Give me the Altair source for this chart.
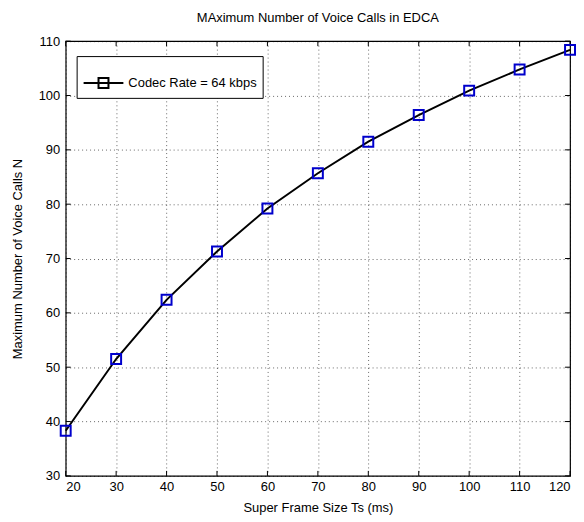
import altair as alt
import pandas as pd

frame_size = [20, 30, 40, 50, 60, 70, 80, 90, 100, 110, 120]
max_calls = [38.3, 51.5, 62.4, 71.3, 79.2, 85.7, 91.5, 96.4, 100.9, 104.8, 108.4]
series_name = "Codec Rate = 64 kbps"
x_ticks = [20, 30, 40, 50, 60, 70, 80, 90, 100, 110, 120]
y_ticks = [30, 40, 50, 60, 70, 80, 90, 100, 110]

W, H = 507, 437
FONT = "Liberation Sans"

df = pd.DataFrame({"x": frame_size, "y": max_calls, "series": series_name})
xt = pd.DataFrame({"t": x_ticks})
yt = pd.DataFrame({"t": y_ticks})

xscale = alt.Scale(domain=[20, 120], nice=False, zero=False)
yscale = alt.Scale(domain=[30, 110], nice=False, zero=False)

base = alt.Chart(df)

line = base.mark_line(strokeWidth=2).encode(
    x=alt.X("x:Q", scale=xscale,
            axis=alt.Axis(values=x_ticks, title="Super Frame Size Ts (ms)", grid=True,
                          tickSize=0, labelPadding=5, titlePadding=8)),
    y=alt.Y("y:Q", scale=yscale,
            axis=alt.Axis(values=y_ticks, title="Maximum Number of Voice Calls N", grid=True,
                          tickSize=0, labelPadding=6, titlePadding=14)),
    color=alt.Color("series:N", scale=alt.Scale(range=["black"]),
                    legend=alt.Legend(title=None, orient="none", legendX=11, legendY=15,
                                      symbolType="M-1,0H1M-0.25,-0.25H0.25V0.25H-0.25Z",
                                      symbolSize=1600, symbolStrokeWidth=2,
                                      symbolFillColor="transparent",
                                      labelFont=FONT, labelFontSize=13, labelColor="black",
                                      strokeColor="black", fillColor="white",
                                      padding=6, labelOffset=4)),
)

points = base.mark_point(shape="square", filled=False, size=100, strokeWidth=2,
                         color="#0000cc", opacity=1).encode(
    x=alt.X("x:Q", scale=xscale),
    y=alt.Y("y:Q", scale=yscale),
)

xtick_b = alt.Chart(xt).mark_rule(color="black", strokeWidth=1).encode(
    x=alt.X("t:Q", scale=xscale), y=alt.value(H), y2=alt.value(H - 5))
xtick_t = alt.Chart(xt).mark_rule(color="black", strokeWidth=1).encode(
    x=alt.X("t:Q", scale=xscale), y=alt.value(0), y2=alt.value(5))
ytick_l = alt.Chart(yt).mark_rule(color="black", strokeWidth=1).encode(
    y=alt.Y("t:Q", scale=yscale), x=alt.value(0), x2=alt.value(5))
ytick_r = alt.Chart(yt).mark_rule(color="black", strokeWidth=1).encode(
    y=alt.Y("t:Q", scale=yscale), x=alt.value(W), x2=alt.value(W - 5))

chart = alt.layer(xtick_b, xtick_t, ytick_l, ytick_r, line, points).properties(
    width=W, height=H,
    background="white",
    title=alt.TitleParams("MAximum Number of Voice Calls in EDCA", font=FONT, fontSize=13,
                          fontWeight="normal", color="black", offset=10, anchor="middle"),
    autosize=alt.AutoSizeParams(type="none"),
    padding={"left": 58, "top": 32, "right": 6, "bottom": 40},
).configure_view(stroke="black", strokeWidth=1.2).configure_axis(
    domain=False, labelFont=FONT, labelFontSize=13, labelColor="black",
    titleFont=FONT, titleFontSize=13, titleFontWeight="normal", titleColor="black",
    gridColor="black", gridDash=[1, 3], gridOpacity=0.6, gridWidth=1,
)

chart.save("out.html", embed_options={"renderer": "svg", "actions": False})
